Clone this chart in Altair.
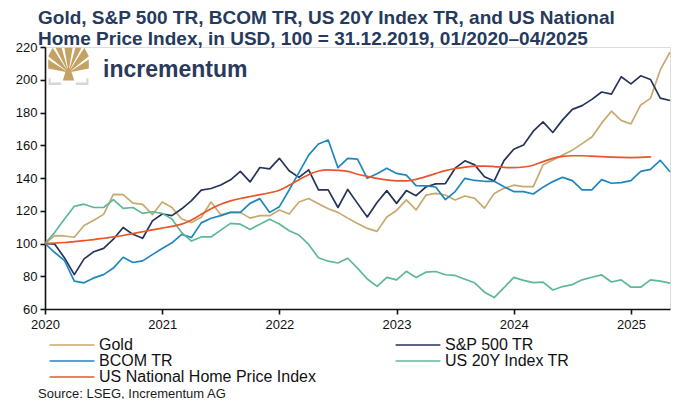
import altair as alt
import pandas as pd

# ---------------- data (monthly, 100 = 31.12.2019) ----------------
series_names = ["Gold", "S&P 500 TR", "BCOM TR", "US 20Y Index TR",
                "US National Home Price Index"]
series_colors = ["#C8A96E", "#26345A", "#1E87BE", "#5DB899", "#E8562A"]
series_widths = [1.7, 1.7, 1.7, 1.7, 3.6]

year_ticks = [2020, 2021, 2022, 2023, 2024, 2025]
y_ticks = [60, 80, 100, 120, 140, 160, 180, 200, 220]

title_lines = ["Gold, S&P 500 TR, BCOM TR, US 20Y Index TR, and US National",
               "Home Price Index, in USD, 100 = 31.12.2019, 01/2020\u201304/2025"]

gold = [100, 104.8, 104.6, 103.8, 111, 114.2, 117.8, 130, 129.8, 124.6,
        123.9, 117.6, 125.3, 122, 115, 112.8, 116, 125.3, 117.5, 119,
        119, 115.5, 117, 117, 120.5, 118, 125.3, 127.5, 124.3, 121.2,
        119, 115.5, 112.2, 109.2, 107.4, 116.2, 120.2, 126.6, 120.5, 129.5,
        130.6, 129.6, 126.6, 129, 127.6, 121.6, 130.6, 133.7, 135.6, 134.7,
        134.7, 148, 151, 154, 157, 161, 165, 173.5, 180.8, 175.2,
        173, 184.6, 188.6, 206, 216.8]

sp500 = [100, 99.6, 91.2, 81, 90.6, 95, 97, 102.6, 109.8, 105.6,
         103.2, 113.8, 118, 117, 121.2, 126.2, 132.6, 133.6, 135.7, 138.9,
         144, 137.6, 146.4, 145.6, 152, 144.4, 140.4, 145, 132.7, 132.7,
         122, 133, 124.5, 116.2, 125, 132.3, 124.5, 132.3, 129.2, 134.5,
         136.4, 136.6, 146, 150.5, 148, 140.8, 138.2, 150.6, 157.6, 160.2,
         168.6, 174.3, 167.8, 175.5, 181.9, 184.2, 188, 192.5, 191.2, 201.8,
         197.5, 202.4, 200.2, 188.8, 187.3]

bcom = [100, 94.5, 89.5, 77, 76, 79, 81, 85, 91.6, 88.4,
        89.4, 93.2, 97, 100.4, 105.6, 103.7, 112.6, 115.4, 117, 119,
        119, 124.5, 127.4, 119, 122.5, 132.7, 143.3, 154, 160.8, 163.2,
        146.3, 152, 151.5, 139.8, 142.6, 146, 142.8, 141.8, 135.3, 135.2,
        134.5, 126.8, 131.7, 139.8, 138.5, 138, 138, 134.6, 131.7, 131.7,
        130.2, 134.4, 137.8, 140.4, 138.4, 132.7, 132.7, 139, 136.8, 137.2,
        138.4, 144, 145.3, 150.8, 143.8]

us20y = [100, 106.8, 115, 122.7, 124, 122, 122, 126.8, 121.4, 122,
         118.4, 119.4, 118.4, 115, 106.6, 101.5, 104, 104, 108.2, 112.3,
         111.8, 108.6, 111.8, 114.8, 111.9, 107.8, 105.2, 99.4, 91.3, 89.2,
         88.1, 91, 85, 78.3, 73.8, 79.3, 77.8, 83, 79.2, 82.5,
         82.9, 80.9, 80.5, 78.2, 76, 70.3, 67, 73, 79.3, 77.5,
         76.1, 76.4, 71.6, 73.7, 74.9, 77.8, 79.4, 80.8, 76.5, 77.8,
         73.3, 73.3, 77.8, 77, 75.8]

home = [100, 100.2, 100.6, 101.2, 101.8, 102.4, 103.2, 104, 104.9, 106,
        107.2, 108.3, 109.4, 110.5, 111.8, 114.3, 117.8, 121.2, 124, 126,
        127.5, 128.7, 129.8, 131, 132.5, 135.5, 139, 142, 144.3, 145,
        144.7, 144, 142.3, 141, 139.8, 138.8, 138.2, 138.2, 139.2, 140.8,
        142.7, 144.5, 145.8, 146.6, 147.2, 147.3, 147, 146.5, 146.3, 146.7,
        147.8, 150, 152, 153.2, 153.6, 153.6, 153.3, 153.1, 152.8, 152.6,
        152.5, 152.6, 152.9]

# ---------------- tables ----------------
def frame(name, vals):
    return pd.DataFrame({
        "x": [2020 + k / 12 for k in range(len(vals))],
        "value": vals,
        "series": name,
    })

df_main = pd.concat([frame(series_names[0], gold), frame(series_names[1], sp500),
                     frame(series_names[2], bcom), frame(series_names[3], us20y)],
                    ignore_index=True)
df_home = frame(series_names[4], home)

FONT = "Liberation Sans"
NAVY = "#263A5E"

legend = alt.Legend(
    title=None, orient="none", legendX=19, legendY=290, columns=2,
    direction="horizontal", columnPadding=76, rowPadding=0,
    symbolType="M-3.2,0L3.2,0", symbolSize=196,
    labelFontSize=16, labelFont=FONT, labelColor="#111111", labelOffset=19,
    labelLimit=400, padding=0, symbolOffset=0,
)
color_enc = alt.Color("series:N", sort=series_names,
                      scale=alt.Scale(domain=series_names, range=series_colors),
                      legend=legend)
width_enc = alt.StrokeWidth("series:N", sort=series_names,
                            scale=alt.Scale(domain=series_names, range=series_widths),
                            legend=legend)

x_enc = alt.X("x:Q", scale=alt.Scale(domain=[2020, 2025 + 4 / 12], nice=False, zero=False),
              axis=alt.Axis(values=year_ticks, format="d", title=None, grid=False,
                            tickSize=5, labelPadding=4, labelFontSize=13, labelFont=FONT,
                            labelColor="#111111", domainColor="#111111", tickColor="#111111",
                            domainWidth=1.6, tickWidth=1.6, labelFlush=False))
y_enc = alt.Y("value:Q", scale=alt.Scale(domain=[60, 220], nice=False, zero=False),
              axis=alt.Axis(values=y_ticks, title=None, grid=False, tickSize=5,
                            labelPadding=3, labelFontSize=13, labelFont=FONT,
                            labelColor="#111111", domainColor="#111111", tickColor="#111111",
                            domainWidth=1.6, tickWidth=1.6))

lines = alt.Chart(df_main).mark_line(strokeJoin="round").encode(
    x=x_enc, y=y_enc, color=color_enc, strokeWidth=width_enc)
home_line = alt.Chart(df_home).mark_line(interpolate="monotone", strokeCap="round").encode(
    x=x_enc, y=y_enc, color=color_enc, strokeWidth=width_enc)

one = pd.DataFrame({"t": [0]})


def label(text, x, y, size, bold=False, color="#111111", baseline="alphabetic", **kw):
    return alt.Chart(one).mark_text(
        text=text, align="left", baseline=baseline, fontSize=size, font=FONT,
        fontWeight="bold" if bold else "normal", color=color, **kw
    ).encode(x=alt.value(x), y=alt.value(y))


title = label(title_lines, -7, -38, 19, True, NAVY, "top", lineHeight=21)
source = label("Source: LSEG, Incrementum AG", -7, 346.5, 13, False, "#1a1a1a", "middle")
brand = label("incrementum", 58, 30, 23, True, "#2B3A5C")

tree_path = ("M-0.28,0.62L-0.09,0.0L0.09,0.0L0.28,0.62Z "
             "M0,0.22L-1,0.02L-1,-0.42Z "
             "M0,0.22L-1,-0.58L-0.78,-1Z "
             "M0,0.22L-0.64,-1L-0.34,-1Z "
             "M0,0.22L-0.2,-1L0.2,-1Z "
             "M0,0.22L0.34,-1L0.64,-1Z "
             "M0,0.22L0.78,-1L1,-0.58Z "
             "M0,0.22L1,-0.42L1,0.02Z")
bracket_path = ("M-0.98,0.5L-0.88,0.5L-0.88,0.72L-0.36,0.72L-0.36,0.84L-0.98,0.84Z "
                "M0.98,0.5L0.88,0.5L0.88,0.72L0.36,0.72L0.36,0.84L0.98,0.84Z")

tree = alt.Chart(one).mark_point(shape=tree_path, filled=True, fill="#C4A264",
                                 strokeWidth=0, size=1650, opacity=1).encode(
    x=alt.value(23.5), y=alt.value(21))
bracket = alt.Chart(one).mark_point(shape=bracket_path, filled=True, fill="#D6D6D6",
                                    strokeWidth=0, size=1650, opacity=1).encode(
    x=alt.value(23.5), y=alt.value(21))

chart = alt.layer(
    lines, home_line, bracket, tree, brand, title, source
).properties(
    width=625, height=262,
    padding={"left": 37, "top": 39, "right": 2, "bottom": 90},
    autosize=alt.AutoSizeParams(type="none"),
).configure_view(stroke=None).configure(background="white")

chart.save("out.html", embed_options={"renderer": "svg", "actions": False})
